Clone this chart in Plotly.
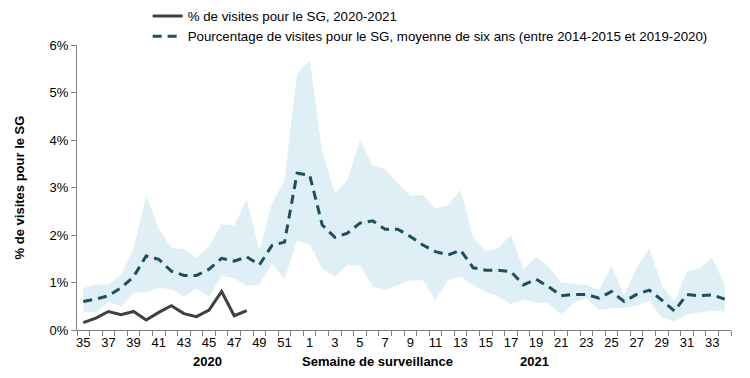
import plotly.graph_objects as go

# surveillance weeks: 2020 weeks 35-52, then 2021 weeks 1-34
weeks = [str(w) for w in range(35, 53)] + [str(w) for w in range(1, 35)]

# % of visits for ILI, 2020-2021 season (weeks 35-48 only)
visits_2020_21 = [0.155, 0.25, 0.39, 0.32, 0.39, 0.21, 0.37, 0.51, 0.345, 0.28,
                  0.42, 0.81, 0.30, 0.41]

# six-year average (2014-2015 to 2019-2020)
mean_6yr = [0.60, 0.65, 0.72, 0.89, 1.12, 1.56, 1.49, 1.24, 1.15, 1.15,
            1.28, 1.51, 1.45, 1.54, 1.37, 1.78, 1.85, 3.30,
            3.26, 2.21, 1.95, 2.04, 2.25, 2.30, 2.12, 2.12, 1.97, 1.79,
            1.65, 1.58, 1.68, 1.31, 1.26, 1.26, 1.23, 0.95, 1.07, 0.91,
            0.72, 0.75, 0.75, 0.67, 0.81, 0.60, 0.75, 0.84, 0.63, 0.40,
            0.75, 0.72, 0.74, 0.65]

# min / max range of the six seasons
band_low = [0.39, 0.37, 0.60, 0.49, 0.79, 0.79, 0.89, 0.86, 0.70, 0.88,
            0.70, 1.14, 1.09, 0.93, 0.96, 1.40, 1.07, 1.89,
            1.79, 1.30, 1.12, 1.37, 1.36, 0.91, 0.84, 0.95, 1.05, 1.05,
            0.63, 1.05, 1.12, 0.95, 0.81, 0.70, 0.54, 0.65, 0.58, 0.56,
            0.32, 0.58, 0.67, 0.42, 0.46, 0.47, 0.51, 0.62, 0.26, 0.18,
            0.33, 0.37, 0.40, 0.39]
band_high = [0.88, 0.96, 0.96, 1.17, 1.72, 2.83, 2.13, 1.73, 1.70, 1.52,
             1.76, 2.23, 2.20, 2.74, 1.68, 2.67, 3.15, 5.40,
             5.68, 3.76, 2.88, 3.16, 4.00, 3.47, 3.39, 3.09, 2.83, 2.84,
             2.56, 2.63, 2.95, 1.95, 1.66, 1.73, 2.00, 1.28, 1.55, 1.33,
             1.00, 0.98, 0.95, 0.84, 1.35, 0.74, 1.30, 1.72, 0.95, 0.60,
             1.23, 1.30, 1.52, 0.95]

FONT = "Arial, Liberation Sans, sans-serif"
xs = list(range(len(weeks)))
pct = lambda vals: [v / 100 for v in vals]

fig = go.Figure()
fig.add_trace(go.Scatter(x=xs, y=pct(band_low), mode="lines", line=dict(width=0),
                         showlegend=False, hoverinfo="skip"))
fig.add_trace(go.Scatter(x=xs, y=pct(band_high), mode="lines", line=dict(width=0),
                         fill="tonexty", fillcolor="#dfeff6",
                         showlegend=False, hoverinfo="skip"))
fig.add_trace(go.Scatter(x=xs[:len(visits_2020_21)], y=pct(visits_2020_21), mode="lines",
                         line=dict(color="#404040", width=3),
                         name="% de visites pour le SG, 2020-2021"))
fig.add_trace(go.Scatter(x=xs, y=pct(mean_6yr), mode="lines",
                         line=dict(color="#1d4f5c", width=3, dash="9px,6px"),
                         name="Pourcentage de visites pour le SG, moyenne de six ans "
                              "(entre 2014-2015 et 2019-2020)"))

fig.update_layout(
    width=750, height=378,
    margin=dict(l=69, r=27, t=37, b=56, autoexpand=False),
    plot_bgcolor="white", paper_bgcolor="white",
    font=dict(family=FONT, size=13, color="#000000"),
    legend=dict(x=0.108, y=1.155, xanchor="left", yanchor="top", traceorder="normal",
                bgcolor="rgba(0,0,0,0)", font=dict(size=13.3),
                tracegroupgap=0, itemwidth=30),
    xaxis=dict(range=[-0.5, len(weeks) - 0.5], showgrid=False, zeroline=False,
               showline=True, linecolor="#808080", linewidth=1,
               tickvals=xs[::2], ticktext=weeks[::2], ticks="",
               tickfont=dict(size=13),
               minor=dict(tick0=-0.5, dtick=1, ticks="outside", ticklen=5,
                          tickcolor="#808080", showgrid=False)),
    yaxis=dict(range=[0, 0.06], dtick=0.01, tickformat=".0%", showgrid=False,
               zeroline=False, showline=True, linecolor="#808080", linewidth=1,
               ticks="outside", ticklen=5, tickcolor="#808080",
               tickfont=dict(size=13),
               title=dict(text="<b>% de visites pour le SG</b>", font=dict(size=13),
                          standoff=22)),
)

fig.add_annotation(x=9.85, y=-0.145, xref="x", yref="paper", text="<b>2020</b>",
                   showarrow=False, font=dict(size=13))
fig.add_annotation(x=35.9, y=-0.145, xref="x", yref="paper", text="<b>2021</b>",
                   showarrow=False, font=dict(size=13))
fig.add_annotation(x=23.4, y=-0.145, xref="x", yref="paper",
                   text="<b>Semaine de surveillance</b>",
                   showarrow=False, font=dict(size=13))

fig.write_html("out.html")
